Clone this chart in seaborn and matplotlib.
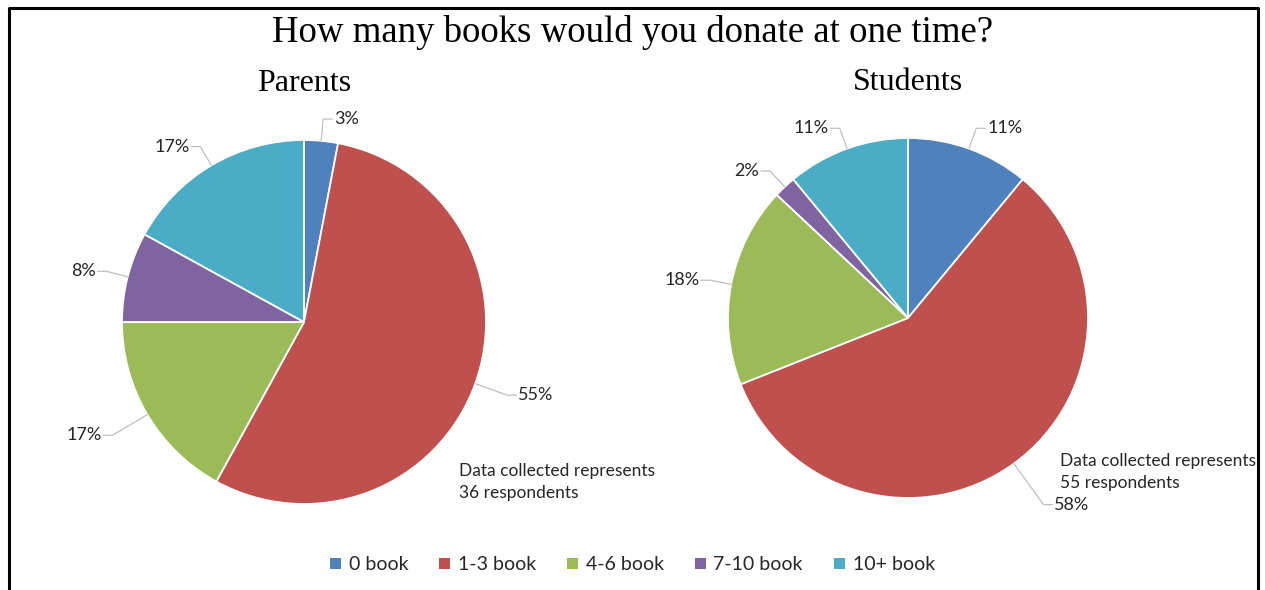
import numpy as np
import matplotlib
matplotlib.use("Agg")
import matplotlib.pyplot as plt
import seaborn as sns
from matplotlib.patches import Patch
from matplotlib.lines import Line2D

# Survey data
categories = ["0 book", "1-3 book", "4-6 book", "7-10 book", "10+ book"]
parents_pct = [3, 55, 17, 8, 17]
students_pct = [11, 58, 18, 2, 11]
parents_n = 36
students_n = 55

sns.set_theme(style="white")
plt.rcParams["font.family"] = ["Lato", "DejaVu Sans"]
SERIF = ["Liberation Serif", "DejaVu Serif"]

colors = sns.color_palette(["#4F81BD", "#C0504D", "#9BBB59", "#8064A2", "#4BACC6"])

W, H = 1265, 590
fig = plt.figure(figsize=(W / 100, H / 100), dpi=100)
fig.patch.set_facecolor("white")

LIM = 1.45


def pie_axes(cx, cy, r):
    """Axes whose unit circle has centre (cx, cy) and radius r in pixels."""
    half = LIM * r
    return fig.add_axes([(cx - half) / W, (H - cy - half) / H, 2 * half / W, 2 * half / H])


def draw_pie(ax, values, title, n, note_xy):
    wedges, _ = ax.pie(values, colors=colors, startangle=90, counterclock=False,
                       radius=1.0, wedgeprops=dict(edgecolor="white", linewidth=1.3))
    ax.set_xlim(-LIM, LIM)
    ax.set_ylim(-LIM, LIM)
    ax.set_aspect("equal")
    ax.axis("off")
    for w, v in zip(wedges, values):
        ang = np.deg2rad((w.theta1 + w.theta2) / 2)
        dx, dy = np.cos(ang), np.sin(ang)
        side = 1 if dx >= 0 else -1
        # labels in the lower half sit a little further out
        r_lab = 1.12 + 0.2 * max(0.0, -dy)
        p0 = (1.0 * dx, 1.0 * dy)
        p1 = (r_lab * dx, r_lab * dy)
        p2 = (p1[0] + side * 0.05, p1[1])
        ax.add_line(Line2D([p0[0], p1[0], p2[0]], [p0[1], p1[1], p2[1]],
                           color="#BFBFBF", lw=0.9, clip_on=False))
        ax.text(p2[0] + side * 0.01, p2[1], f"{v}%", ha="left" if side > 0 else "right",
                va="center", fontsize=13, color="#262626")
    ax.text(0, 1.31, title, ha="center", va="center", fontsize=23,
            family=SERIF, color="black")
    ax.text(note_xy[0], note_xy[1], f"Data collected represents\n{n} respondents",
            ha="left", va="center", fontsize=12.5, color="#262626", linespacing=1.5)


ax1 = pie_axes(304, 322, 182)
draw_pie(ax1, parents_pct, "Parents", parents_n, (0.85, -0.88))

ax2 = pie_axes(908, 318, 180)
draw_pie(ax2, students_pct, "Students", students_n, (0.845, -0.855))

fig.text(0.5, 1 - 33 / H, "How many books would you donate at one time?",
         ha="center", va="center", fontsize=26.5, family=SERIF, color="black")

handles = [Patch(facecolor=c, edgecolor="none", label=l) for c, l in zip(colors, categories)]
fig.legend(handles=handles, loc="center", bbox_to_anchor=(0.5, 1 - 565 / H), ncol=5,
           frameon=False, fontsize=14, handlelength=0.55, handleheight=0.55,
           handletextpad=0.4, columnspacing=1.6)

# Chart frame (open at the bottom)
fig.add_artist(Line2D([9 / W, 9 / W, 1258 / W, 1258 / W],
                      [0, 1 - 8 / H, 1 - 8 / H, 0], color="black", lw=2.2,
                      transform=fig.transFigure))

fig.savefig("out.png", dpi=100, facecolor="white")
